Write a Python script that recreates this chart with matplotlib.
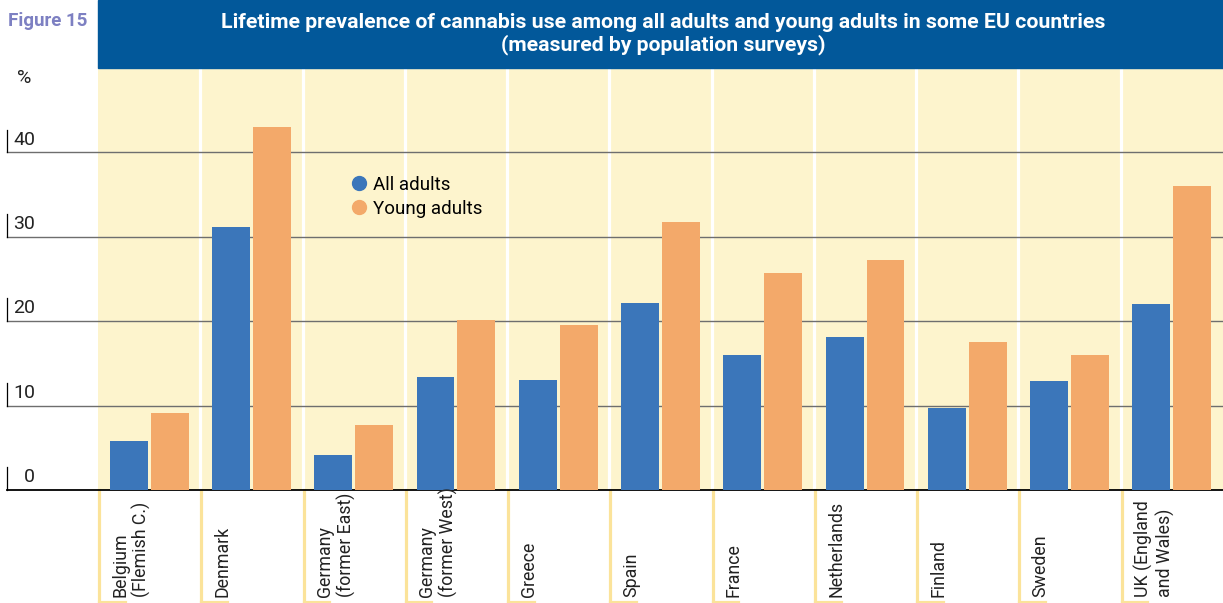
import matplotlib.pyplot as plt
import matplotlib.transforms as mtransforms
from matplotlib.lines import Line2D
import numpy as np

plt.rcParams['font.family'] = ['Roboto', 'DejaVu Sans']

# data
countries = ['Belgium\n(Flemish C.)', 'Denmark', 'Germany\n(former East)', 'Germany\n(former West)',
             'Greece', 'Spain', 'France', 'Netherlands', 'Finland', 'Sweden', 'UK (England\nand Wales)']
all_adults = [5.8, 31.2, 4.1, 13.4, 13.0, 22.1, 16.0, 18.1, 9.7, 12.9, 22.0]
young_adults = [9.1, 43.0, 7.7, 20.1, 19.6, 31.8, 25.7, 27.2, 17.5, 16.0, 36.0]
yticks = [0, 10, 20, 30, 40]
ytick_labels = ['0', '10', '20', '30', '40']

blue = '#3b76ba'
orange = '#f3a96a'
bg = '#fdf4cd'
band = '#02589a'
sep_yellow = '#fbe39a'

W, H = 1223, 603
fig = plt.figure(figsize=(W / 100, H / 100), dpi=100)
ax = fig.add_axes([98 / W, (H - 490) / H, 1125 / W, 422 / H])
ax.set_facecolor(bg)

x = np.arange(len(countries))
ax.set_xlim(-0.5, len(countries) - 0.5)
ax.set_ylim(0, 50)

# white separators between country columns
for b in x[:-1] + 0.5:
    ax.axvline(b, color='white', lw=2.3, zorder=1)

# gridlines, running out past the left edge of the axes
yt = mtransforms.blended_transform_factory(ax.transAxes, ax.transData)
left = -91 / 1125
for v, lab in zip(yticks, ytick_labels):
    c = 'black' if v == 0 else '#6e6e6e'
    ax.plot([left, 1], [v, v], transform=yt, color=c, lw=1.3 if v == 0 else 1.0,
            clip_on=False, zorder=2)
    ax.plot([left, left], [v, v + 2.7], transform=yt, color='black', lw=0.9,
            clip_on=False, zorder=2)
    ax.text(left + 28 / 1125, v + 0.45, lab, transform=yt, ha='right', va='bottom',
            fontsize=14, color='#222222')
ax.text(left + 10 / 1125, 48.8, '%', transform=yt, ha='left', va='center',
        fontsize=14, color='#222222')

w = 0.37
ax.bar(x - 0.2, all_adults, w, color=blue, zorder=3, label='All adults')
ax.bar(x + 0.2, young_adults, w, color=orange, zorder=3, label='Young adults')

for s in ax.spines.values():
    s.set_visible(False)
ax.set_xticks([])
ax.set_yticks([])

# country labels under the axis, with yellow column rules
xt = mtransforms.blended_transform_factory(ax.transData, ax.transAxes)
bot = -113 / 422
for i, name in enumerate(countries):
    ax.plot([i - 0.49, i - 0.49], [0, bot], transform=xt, color=sep_yellow, lw=2.3,
            clip_on=False, zorder=1)
    ax.plot([i - 0.49, i - 0.24], [bot + 1 / 422, bot + 1 / 422], transform=xt,
            color=sep_yellow, lw=2.3, clip_on=False, zorder=1)
    ax.text(i - 0.37, -107 / 422, name, transform=xt, rotation=90, rotation_mode='anchor',
            ha='left', va='top', fontsize=12.8, color='#222222', linespacing=1.2)

handles = [Line2D([], [], marker='o', ls='', color=blue, markersize=10),
           Line2D([], [], marker='o', ls='', color=orange, markersize=10)]
ax.legend(handles, ['All adults', 'Young adults'], loc='upper left',
          bbox_to_anchor=(0.217, 0.762), frameon=False, fontsize=13.5,
          handletextpad=0.25, labelspacing=0.3, borderaxespad=0, handlelength=1.0)

# title band
fig.patches.append(plt.Rectangle((98 / W, (H - 68) / H), 1125 / W, 68 / H,
                                 transform=fig.transFigure, color=band, zorder=0))
fig.text(663 / W, 1 - 34 / H, 'Lifetime prevalence of cannabis use among all adults and young adults in some EU countries\n(measured by population surveys)',
         ha='center', va='center', color='white', fontsize=15.3, fontweight='bold',
         linespacing=1.2)
fig.text(8 / W, 1 - 21 / H, 'Figure 15', ha='left', va='center', color='#7d80c2',
         fontsize=13.5, fontweight='bold')

fig.savefig('out.png', dpi=100)
